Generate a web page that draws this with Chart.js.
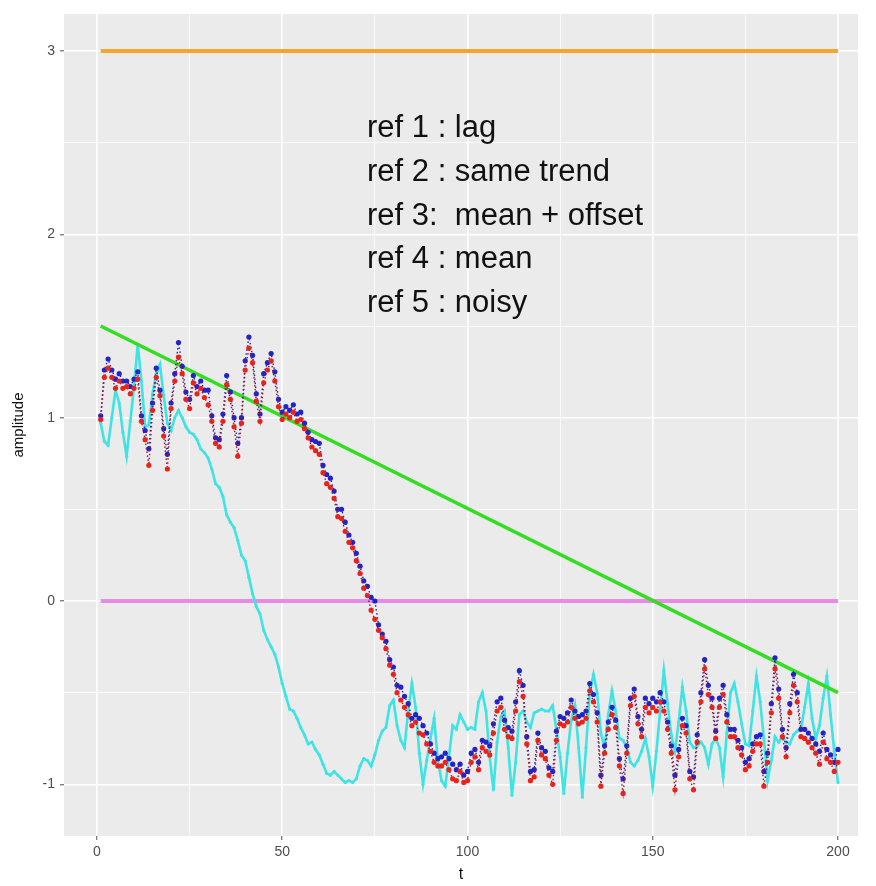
<!DOCTYPE html>
<html>
<head>
<meta charset="utf-8">
<title>amplitude vs t</title>
<script src="https://cdn.jsdelivr.net/npm/chart.js@4.4.1/dist/chart.umd.min.js"></script>
<style>
 body { margin: 0; background: #ffffff; }
 #wrap { position: relative; width: 876px; height: 886px; }
 #notes {
 position: absolute; left: 367px; top: 105px;
 font-family: "Liberation Sans", Arial, sans-serif;
 font-size: 31px; line-height: 43.8px; color: #111111;
 white-space: pre;
 }
</style>
</head>
<body>
<div id="wrap">
 <canvas id="chart"></canvas>
 <div id="notes">ref 1 : lag
ref 2 : same trend
ref 3:  mean + offset
ref 4 : mean
ref 5 : noisy</div>
</div>
<script>
// t runs 1..200
const tFirst = 1;
const tLast = 200;

const xTicks = [0, 50, 100, 150, 200];
const yTicks = [-1, 0, 1, 2, 3];

// reference levels
const offsetLevel = 3;   // ref 3
const meanLevel = 0;     // ref 4
const trendStart = 1.5;  // ref 2, at t = 1
const trendEnd = -0.5;   // ref 2, at t = 200

// original signal (red)
const signal = [
 0.99, 1.22, 1.27, 1.22, 1.16, 1.20, 1.16, 1.17, 1.13, 1.16,
 1.21, 0.98, 0.88, 0.74, 1.04, 1.22, 1.12, 0.90, 0.72, 1.05,
 1.20, 1.33, 1.24, 1.10, 1.05, 1.19, 1.13, 1.16, 1.11, 1.07,
 0.98, 0.86, 0.84, 0.98, 1.18, 1.10, 0.95, 0.79, 0.97, 1.26,
 1.38, 1.30, 1.09, 0.98, 1.19, 1.26, 1.31, 1.20, 1.06, 0.99,
 1.02, 1.00, 1.03, 0.98, 0.99, 0.94, 0.89, 0.84, 0.82, 0.80,
 0.70, 0.64, 0.62, 0.56, 0.46, 0.45, 0.38, 0.32, 0.29, 0.22,
 0.15, 0.07, 0.03, -0.05, -0.10, -0.16, -0.20, -0.26, -0.35, -0.40,
 -0.50, -0.54, -0.58, -0.62, -0.68, -0.66, -0.72, -0.73, -0.78, -0.82,
 -0.88, -0.90, -0.90, -0.88, -0.92, -0.97, -0.98, -0.93, -0.99, -0.98,
 -0.88, -0.85, -0.92, -0.80, -0.82, -0.84, -0.72, -0.60, -0.58, -0.70,
 -0.74, -0.75, -0.60, -0.44, -0.52, -0.78, -0.98, -0.96, -0.76, -0.84,
 -0.86, -0.95, -1.00, -0.76, -0.67, -0.68, -0.66, -0.58, -0.64, -0.67,
 -0.66, -0.64, -0.49, -0.55, -0.66, -1.01, -0.83, -0.70, -0.62, -0.69,
 -0.90, -1.05, -0.83, -0.57, -0.52, -0.67, -0.74, -0.58, -0.61, -0.58,
 -0.60, -0.55, -0.60, -0.70, -0.83, -1.03, -0.85, -0.68, -0.72, -0.97,
 -1.03, -0.77, -0.55, -0.37, -0.51, -0.58, -0.75, -0.58, -0.51, -0.66,
 -0.74, -0.74, -0.80, -0.84, -0.92, -0.90, -0.82, -0.78, -0.78, -1.01,
 -0.88, -0.61, -0.37, -0.53, -0.74, -0.85, -0.61, -0.46, -0.55, -0.74,
 -0.75, -0.77, -0.80, -0.83, -0.89, -0.77, -0.86, -0.88, -0.93, -0.88
];

// ref 5 : noisy (blue)
const noisy = [
 1.01, 1.26, 1.32, 1.26, 1.21, 1.24, 1.20, 1.20, 1.17, 1.21,
 1.25, 1.01, 0.93, 0.83, 1.08, 1.27, 1.15, 0.94, 0.80, 1.08,
 1.24, 1.41, 1.28, 1.14, 1.10, 1.23, 1.17, 1.20, 1.15, 1.15,
 1.01, 0.89, 0.88, 1.02, 1.23, 1.14, 1.00, 0.86, 1.00, 1.31,
 1.44, 1.34, 1.13, 1.02, 1.24, 1.30, 1.35, 1.25, 1.10, 1.03,
 1.06, 1.04, 1.07, 1.02, 1.03, 0.97, 0.92, 0.88, 0.87, 0.86,
 0.74, 0.69, 0.67, 0.60, 0.50, 0.50, 0.43, 0.36, 0.32, 0.26,
 0.19, 0.11, 0.08, 0.02, 0.00, -0.13, -0.18, -0.22, -0.32, -0.36,
 -0.46, -0.47, -0.52, -0.56, -0.64, -0.62, -0.64, -0.68, -0.72, -0.78,
 -0.83, -0.86, -0.85, -0.83, -0.86, -0.89, -0.92, -0.89, -0.95, -0.93,
 -0.83, -0.81, -0.88, -0.76, -0.77, -0.79, -0.67, -0.55, -0.53, -0.65,
 -0.69, -0.71, -0.55, -0.38, -0.46, -0.74, -0.93, -0.92, -0.72, -0.80,
 -0.82, -0.91, -0.93, -0.71, -0.63, -0.64, -0.61, -0.54, -0.60, -0.63,
 -0.62, -0.60, -0.45, -0.51, -0.61, -0.95, -0.79, -0.66, -0.58, -0.65,
 -0.86, -0.97, -0.79, -0.53, -0.48, -0.63, -0.70, -0.53, -0.56, -0.53,
 -0.55, -0.50, -0.55, -0.66, -0.79, -0.95, -0.81, -0.64, -0.68, -0.93,
 -0.96, -0.73, -0.50, -0.32, -0.46, -0.53, -0.71, -0.53, -0.46, -0.62,
 -0.70, -0.70, -0.76, -0.80, -0.88, -0.86, -0.78, -0.74, -0.73, -0.93,
 -0.83, -0.56, -0.31, -0.48, -0.70, -0.80, -0.56, -0.40, -0.50, -0.70,
 -0.70, -0.72, -0.75, -0.78, -0.82, -0.72, -0.81, -0.84, -0.88, -0.81
];

// ref 1 : lag (cyan)
const lagged = [
 0.97, 0.87, 0.85, 1.00, 1.15, 1.08, 0.92, 0.79, 0.98, 1.17,
 1.40, 1.20, 0.95, 0.96, 1.13, 1.24, 1.29, 1.12, 0.97, 0.93,
 1.00, 1.04, 1.00, 0.95, 0.92, 0.91, 0.88, 0.83, 0.81, 0.78,
 0.72, 0.64, 0.62, 0.57, 0.47, 0.43, 0.40, 0.33, 0.25, 0.22,
 0.13, 0.04, -0.03, -0.07, -0.16, -0.21, -0.25, -0.29, -0.36, -0.45,
 -0.52, -0.59, -0.60, -0.64, -0.69, -0.73, -0.78, -0.77, -0.81, -0.84,
 -0.89, -0.94, -0.95, -0.93, -0.95, -0.97, -0.99, -0.98, -0.99, -0.97,
 -0.90, -0.86, -0.87, -0.90, -0.84, -0.76, -0.71, -0.69, -0.57, -0.54,
 -0.68, -0.76, -0.80, -0.60, -0.45, -0.58, -0.83, -1.00, -0.87, -0.75,
 -0.64, -0.87, -0.98, -1.01, -0.85, -0.68, -0.70, -0.62, -0.66, -0.70,
 -0.69, -0.70, -0.55, -0.50, -0.60, -0.85, -1.03, -0.77, -0.63, -0.60,
 -0.80, -1.06, -0.88, -0.62, -0.60, -0.66, -0.69, -0.61, -0.60, -0.59,
 -0.60, -0.60, -0.57, -0.70, -0.85, -1.05, -0.83, -0.65, -0.57, -0.80,
 -1.07, -0.80, -0.50, -0.40, -0.50, -0.72, -0.80, -0.62, -0.49, -0.60,
 -0.75, -0.76, -0.80, -0.88, -0.90, -0.87, -0.82, -0.75, -0.85, -1.01,
 -0.82, -0.60, -0.38, -0.56, -0.73, -0.82, -0.66, -0.47, -0.60, -0.77,
 -0.80, -0.79, -0.77, -0.80, -0.89, -0.78, -0.75, -0.80, -0.96, -0.72,
 -0.50, -0.45, -0.55, -0.67, -0.78, -0.79, -0.60, -0.41, -0.55, -0.75,
 -0.98, -0.87, -0.74, -0.77, -0.74, -0.77, -0.78, -0.73, -0.71, -0.70,
 -0.58, -0.45, -0.64, -0.75, -0.68, -0.53, -0.41, -0.62, -0.82, -0.99
];

const tValues = signal.map((v, i) => tFirst + i);
const toPoints = arr => arr.map((v, i) => ({ x: tValues[i], y: v }));

const panelBg = {
 id: "panelBg",
 beforeDraw(chart) {
 const a = chart.chartArea;
 const ctx = chart.ctx;
 ctx.save();
 ctx.fillStyle = "#ebebeb";
 ctx.fillRect(a.left, a.top, a.right - a.left, a.bottom - a.top);
 ctx.restore();
 }
};

const ctx = document.getElementById("chart").getContext("2d");

new Chart(ctx, {
 type: "line",
 data: {
 datasets: [
 {
 label: "signal",
 data: toPoints(signal),
 borderColor: "#9a1838",
 borderWidth: 1.4,
 borderDash: [1.5, 2.5],
 pointRadius: 2.6,
 pointBackgroundColor: "#e8231c",
 pointBorderWidth: 0,
 tension: 0
 },
 {
 label: "ref 5 : noisy",
 data: toPoints(noisy),
 borderColor: "#2a2a9a",
 borderWidth: 1.4,
 borderDash: [1.5, 2.5],
 pointRadius: 2.6,
 pointBackgroundColor: "#2323c8",
 pointBorderWidth: 0,
 tension: 0
 },
 {
 label: "ref 2 : same trend",
 data: [{ x: tFirst, y: trendStart }, { x: tLast, y: trendEnd }],
 borderColor: "#33dd22",
 borderWidth: 3.5,
 pointRadius: 0
 },
 {
 label: "ref 1 : lag",
 data: toPoints(lagged),
 borderColor: "#3fe3e3",
 borderWidth: 2.6,
 pointRadius: 1.6,
 pointBackgroundColor: "#3fe3e3",
 pointBorderWidth: 0,
 tension: 0
 },
 {
 label: "ref 3: mean + offset",
 data: [{ x: tFirst, y: offsetLevel }, { x: tLast, y: offsetLevel }],
 borderColor: "#f3a52c",
 borderWidth: 4,
 pointRadius: 0
 },
 {
 label: "ref 4 : mean",
 data: [{ x: tFirst, y: meanLevel }, { x: tLast, y: meanLevel }],
 borderColor: "#e88ae8",
 borderWidth: 4,
 pointRadius: 0
 }
 ]
 },
 options: {
 responsive: true,
 maintainAspectRatio: false,
 animation: false,
 events: [],
 layout: { padding: { top: 14, right: 18, left: 0, bottom: 0 } },
 plugins: {
 legend: { display: false },
 tooltip: { enabled: false }
 },
 scales: {
 x: {
 type: "linear",
 min: -8.9,
 max: 205.4,
 afterBuildTicks(scale) {
 const t = [];
 for (let v = -25; v <= 225; v += 25) {
 if (v >= scale.min && v <= scale.max) t.push({ value: v });
 }
 scale.ticks = t;
 },
 afterFit(scale) { scale.height = 50; },
 border: { display: false },
 grid: {
 color: "#ffffff",
 lineWidth: c => (xTicks.includes(c.tick.value) ? 1.6 : 0.7),
 tickColor: c => (xTicks.includes(c.tick.value) ? "#4d4d4d" : "rgba(0,0,0,0)"),
 tickLength: 4,
 tickWidth: 1
 },
 ticks: {
 autoSkip: false,
 maxRotation: 0,
 padding: 4,
 color: "#4d4d4d",
 font: { family: "'Liberation Sans', Arial, sans-serif", size: 14 },
 callback: v => (xTicks.includes(v) ? String(v) : "")
 },
 title: {
 display: true,
 text: "t",
 color: "#111111",
 font: { family: "'Liberation Sans', Arial, sans-serif", size: 16 },
 padding: { top: 0, bottom: 2 }
 }
 },
 y: {
 type: "linear",
 min: -1.282,
 max: 3.202,
 afterBuildTicks(scale) {
 const t = [];
 for (let v = -1.5; v <= 3.5; v += 0.5) {
 if (v >= scale.min && v <= scale.max) t.push({ value: v });
 }
 scale.ticks = t;
 },
 afterFit(scale) { scale.width = 64; },
 border: { display: false },
 grid: {
 color: "#ffffff",
 lineWidth: c => (yTicks.includes(c.tick.value) ? 1.6 : 0.7),
 tickColor: c => (yTicks.includes(c.tick.value) ? "#4d4d4d" : "rgba(0,0,0,0)"),
 tickLength: 4,
 tickWidth: 1
 },
 ticks: {
 autoSkip: false,
 padding: 5,
 color: "#4d4d4d",
 font: { family: "'Liberation Sans', Arial, sans-serif", size: 14 },
 callback: v => (yTicks.includes(v) ? String(v) : "")
 },
 title: {
 display: true,
 text: "amplitude",
 color: "#111111",
 font: { family: "'Liberation Sans', Arial, sans-serif", size: 15 },
 padding: { top: 10, bottom: 0 }
 }
 }
 }
 },
 plugins: [panelBg]
});
</script>
</body>
</html>
